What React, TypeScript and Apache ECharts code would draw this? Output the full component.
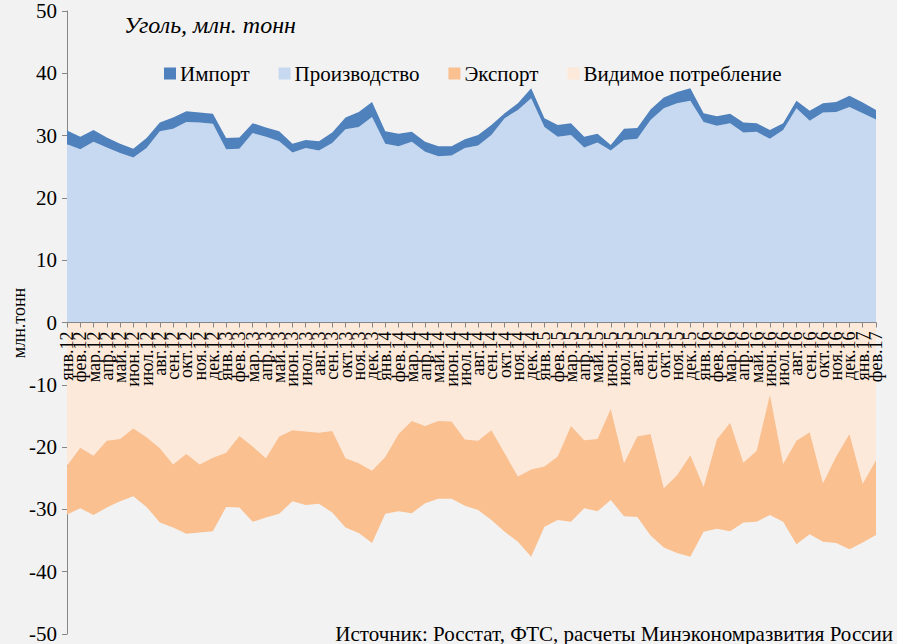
import React, { useEffect, useRef } from "react";
import * as echarts from "echarts";

const months = ["янв.", "фев.", "мар.", "апр.", "май.", "июн.", "июл.", "авг.", "сен.", "окт.", "ноя.", "дек."];
const years = ["12", "13", "14", "15", "16", "17"];

const categories: string[] = [];
for (const y of years) {
  for (const m of months) {
    categories.push(m + y);
  }
}
const cats = categories.slice(0, 62);

const production = [
  28.6, 27.8, 29.0, 28.1, 27.2, 26.5, 28.0, 30.7, 31.1, 32.2, 32.1, 31.9,
  27.8, 27.9, 30.4, 29.8, 29.1, 27.3, 28.0, 27.6, 28.8, 31.0, 31.4, 33.0,
  28.7, 28.3, 29.0, 27.4, 26.7, 26.8, 28.0, 28.4, 30.1, 32.8, 34.1, 36.0,
  31.4, 29.8, 30.1, 28.1, 28.9, 27.6, 29.3, 29.5, 32.5, 34.4, 35.2, 35.6,
  32.2, 31.6, 32.0, 30.5, 30.6, 29.5, 30.9, 34.4, 32.4, 33.7, 33.8, 34.6,
  33.6, 32.6,
];

const imports = [
  2.2, 2.0, 1.9, 1.6, 1.5, 1.4, 1.6, 1.4, 1.8, 1.7, 1.6, 1.6,
  1.8, 1.8, 1.6, 1.5, 1.6, 1.4, 1.3, 1.5, 1.7, 1.9, 2.4, 2.4,
  2.0, 2.0, 1.6, 1.6, 1.6, 1.5, 1.4, 1.7, 1.6, 0.8, 1.1, 1.6,
  1.4, 1.9, 1.9, 1.7, 1.4, 0.9, 1.8, 1.7, 1.7, 1.7, 1.8, 2.0,
  1.4, 1.5, 1.5, 1.6, 1.4, 1.4, 1.1, 1.2, 1.6, 1.5, 1.6, 1.8,
  1.7, 1.5,
];

// plotted below zero
const consumption = [
  -23.0, -20.1, -21.4, -19.0, -18.7, -17.0, -18.4, -20.2, -22.8, -21.1, -22.8, -21.7,
  -20.9, -18.2, -19.9, -21.8, -18.3, -17.3, -17.5, -17.7, -17.4, -21.8, -22.6, -23.8,
  -21.6, -17.9, -15.8, -16.6, -15.8, -15.9, -18.8, -19.0, -17.3, -21.0, -24.7, -23.6,
  -23.1, -21.5, -16.6, -18.9, -18.7, -13.9, -22.6, -18.3, -17.9, -26.6, -24.5, -21.3,
  -26.4, -18.8, -16.1, -22.5, -20.6, -11.6, -22.7, -19.0, -17.6, -25.8, -21.5, -17.9,
  -25.9, -22.1,
];

const exports = [
  -7.8, -9.7, -9.5, -10.7, -10.0, -10.9, -11.2, -11.9, -10.1, -12.8, -10.9, -11.8,
  -8.7, -11.5, -12.1, -9.5, -12.4, -11.4, -11.8, -11.4, -13.1, -11.1, -11.2, -11.6,
  -9.1, -12.4, -14.8, -12.4, -12.5, -12.4, -10.6, -11.1, -14.4, -12.6, -10.5, -14.0,
  -9.7, -10.2, -15.4, -10.9, -11.6, -14.6, -8.5, -12.9, -16.3, -9.5, -12.5, -16.3,
  -7.2, -14.3, -17.4, -9.6, -11.4, -19.3, -9.3, -16.6, -16.4, -9.4, -13.9, -18.5,
  -9.4, -12.0,
];

const FONT = "Liberation Serif, Times New Roman, serif";
const GRAY = "#868686";

export default function App() {
  const ref = useRef<HTMLDivElement>(null);
  useEffect(() => {
    if (!ref.current) return;
    const chart = echarts.init(ref.current, null, { renderer: "svg" });
    const area = (name: string, data: number[], stack: string, color: string, idx: number) => ({
      name,
      type: "line",
      stack,
      data,
      xAxisIndex: idx,
      yAxisIndex: idx,
      symbol: "none",
      showSymbol: false,
      lineStyle: { width: 0 },
      itemStyle: { color },
      areaStyle: { color, opacity: 1 },
      z: 2,
    });
    const yBase = {
      type: "value",
      interval: 10,
      axisLine: { show: true, lineStyle: { color: GRAY } },
      axisTick: { show: true, length: 5, lineStyle: { color: GRAY } },
      splitLine: { show: false },
      axisLabel: { fontFamily: FONT, fontSize: 21, color: "#000", margin: 10 },
    };
    chart.setOption({
      animation: false,
      backgroundColor: "#F2F2F2",
      textStyle: { fontFamily: FONT },
      title: {
        text: "Уголь, млн. тонн",
        left: 119,
        top: 8,
        textStyle: { fontFamily: FONT, fontStyle: "italic", fontWeight: "normal", fontSize: 24, color: "#000" },
      },
      legend: {
        data: ["Импорт", "Производство", "Экспорт", "Видимое потребление"],
        left: 159,
        top: 58,
        icon: "rect",
        itemWidth: 12,
        itemHeight: 12,
        itemGap: 29,
        textStyle: { fontFamily: FONT, fontSize: 21, color: "#000", padding: [0, 0, 0, -1] },
      },
      grid: [
        { left: 67, right: 21, top: 11, height: 311.5, outerBoundsMode: "none" },
        { left: 67, right: 21, top: 322.5, height: 311.5, outerBoundsMode: "none" },
      ],
      xAxis: [
        {
          type: "category",
          gridIndex: 0,
          data: cats,
          boundaryGap: false,
          position: "bottom",
          z: 10,
          axisLine: { onZero: false, lineStyle: { color: GRAY, width: 1 } },
          axisTick: { show: true, interval: 0, length: 5, lineStyle: { color: GRAY } },
          axisLabel: {
            interval: 0,
            rotate: 90,
            margin: 9,
            fontFamily: FONT,
            fontSize: 18,
            color: "#000",
            hideOverlap: false,
          },
        },
        {
          type: "category",
          gridIndex: 1,
          data: cats,
          boundaryGap: false,
          show: false,
        },
      ],
      yAxis: [
        { ...yBase, gridIndex: 0, min: 0, max: 50 },
        {
          ...yBase,
          gridIndex: 1,
          min: -50,
          max: 0,
          axisLabel: { ...yBase.axisLabel, showMaxLabel: false, formatter: (v: number) => (v === 0 ? "" : String(v)) },
        },
      ],
      series: [
        area("Производство", production, "pos", "#C6D9F1", 0),
        area("Импорт", imports, "pos", "#4F81BD", 0),
        area("Видимое потребление", consumption, "neg", "#FDE9D9", 1),
        area("Экспорт", exports, "neg", "#FAC090", 1),
      ],
      graphic: [
        {
          type: "text",
          x: 19,
          y: 323,
          rotation: Math.PI / 2,
          style: {
            text: "млн.тонн",
            fontFamily: FONT,
            fontSize: 18,
            fill: "#000",
            align: "center",
            verticalAlign: "middle",
          },
          z: 20,
        },
        {
          type: "text",
          right: 4,
          bottom: 0,
          style: {
            text: "Источник: Росстат, ФТС, расчеты Минэкономразвития России",
            fontFamily: FONT,
            fontSize: 21,
            fill: "#000",
          },
          z: 20,
        },
      ],
    });
    return () => chart.dispose();
  }, []);
  return (
    <div
      ref={ref}
      style={{ position: "absolute", left: 0, top: 0, width: 897, height: 644 }}
    />
  );
}
